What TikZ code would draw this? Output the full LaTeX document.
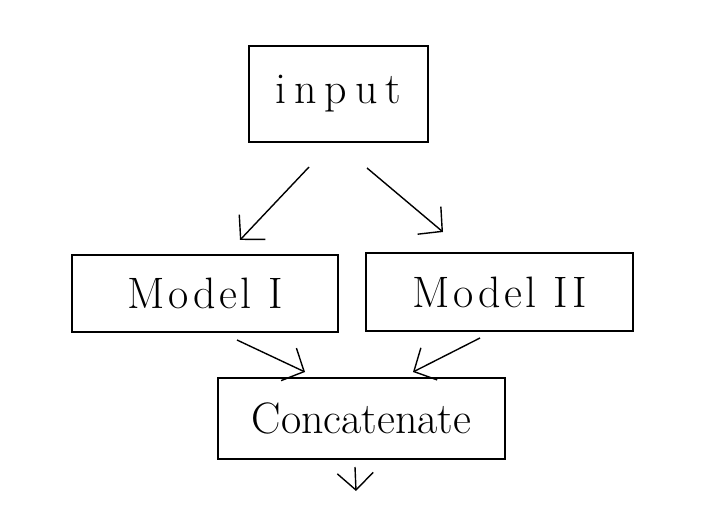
\documentclass[tikz,border=0pt]{standalone}
\usepackage{fontspec}
\setmainfont{Latin Modern Roman}
\usetikzlibrary{arrows.meta}
\begin{document}
\begin{tikzpicture}[x=1pt,y=-1pt,
  box/.style={draw,line width=1.3pt,inner sep=0pt,font=\fontsize{44}{48}\selectfont},
  arr/.style={line width=1.4pt,-{Straight Barb[length=17pt,width=36pt,line width=1.4pt]}}]
\useasboundingbox (0,0) rectangle (720,526);
\node[box,minimum width=179pt,minimum height=96pt] (in) at (338.5,94) {\addfontfeatures{LetterSpace=18}input};
\node[box,minimum width=266pt,minimum height=77pt] (m1) at (205,293.5) {\addfontfeatures{LetterSpace=8}Model I};
\node[box,minimum width=267pt,minimum height=78pt] (m2) at (499.5,292) {\addfontfeatures{LetterSpace=8}Model II};
\node[box,minimum width=287pt,minimum height=81pt] (cc) at (361.5,418.5) {Concatenate};
\coordinate (a1s) at (309,167);
\coordinate (a1e) at (240,240);
\coordinate (a2s) at (367,168);
\coordinate (a2e) at (443,232);
\coordinate (b1s) at (237,340);
\coordinate (b1e) at (305,372);
\coordinate (b2s) at (480,338);
\coordinate (b2e) at (413,372);
\coordinate (cs) at (355,467);
\coordinate (ce) at (356,491);
\draw[arr] (a1s) -- (a1e);
\draw[arr] (a2s) -- (a2e);
\draw[arr] (b1s) -- (b1e);
\draw[arr] (b2s) -- (b2e);
\draw[arr] (cs) -- (ce);
\end{tikzpicture}
\end{document}
